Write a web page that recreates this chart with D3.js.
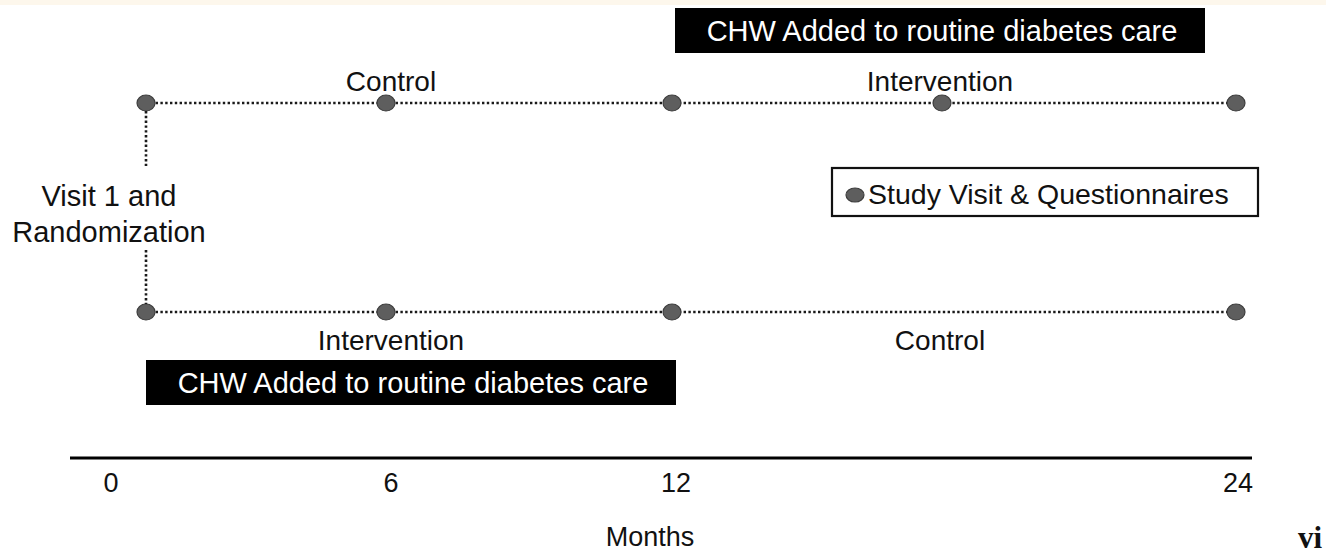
<!DOCTYPE html>
<html>
<head>
<meta charset="utf-8">
<script src="https://cdn.jsdelivr.net/npm/d3@7"></script>
<style>
  html, body { margin: 0; padding: 0; background: #ffffff; }
  svg { display: block; }
  text { font-family: "Liberation Sans", Arial, sans-serif; }
</style>
</head>
<body>
<svg id="chart" width="1326" height="555"></svg>
<script>
// ---------------- data ----------------
const visitMonths = [0, 6, 12, 18, 24];          // visit schedule positions
const armATopVisits = [0, 6, 12, 18, 24];        // upper arm study visits
const armBBottomVisits = [0, 6, 12, 24];         // lower arm study visits
const armAPhases = [
  { label: "Control", start: 0, end: 12, labelAt: 6 },
  { label: "Intervention", start: 12, end: 24, labelAt: 18 }
];
const armBPhases = [
  { label: "Intervention", start: 0, end: 12, labelAt: 6 },
  { label: "Control", start: 12, end: 24, labelAt: 18 }
];
const chwText = "CHW Added to routine diabetes care";
const tickMonths = [0, 6, 12, 24];
const tickLabels = ["0", "6", "12", "24"];
const axisTitle = "Months";
const legendText = "Study Visit & Questionnaires";
const startLabel = ["Visit 1 and", "Randomization"];
const pageMark = "vi";

// ---------------- layout ----------------
const svg = d3.select("#chart");
const W = 1326, H = 555;

// timeline is drawn schematically (not to scale) -> piecewise scale
const x = d3.scaleLinear().domain(visitMonths).range([146, 386, 672, 942, 1236]);
const xTick = d3.scaleLinear().domain(tickMonths).range([111, 391, 676, 1238]);

const yTop = 103, yBottom = 312;
const dotColor = "#5e5e5e", dotStroke = "#3e3e3e";

// top cream band
svg.append("rect").attr("x", 0).attr("y", 0).attr("width", W).attr("height", 5).attr("fill", "#fdf7ec");

function drawArm(y, visits, phases, labelY, boxY) {
  const g = svg.append("g");
  const ext = d3.extent(visits);
  g.append("line")
    .attr("x1", x(ext[0])).attr("x2", x(ext[1]))
    .attr("y1", y).attr("y2", y)
    .attr("stroke", "#1a1a1a").attr("stroke-width", 2.6)
    .attr("stroke-dasharray", "2.4 2.4");
  g.selectAll("ellipse").data(visits).join("ellipse")
    .attr("cx", d => x(d)).attr("cy", y)
    .attr("rx", 9).attr("ry", 8)
    .attr("fill", dotColor).attr("stroke", dotStroke).attr("stroke-width", 1.2);
  g.selectAll("text.phase").data(phases).join("text")
    .attr("class", "phase")
    .attr("x", d => x(d.labelAt) + (d.labelAt < 12 ? 5 : -2)).attr("y", labelY)
    .attr("text-anchor", "middle")
    .attr("font-size", 28).attr("fill", "#111")
    .text(d => d.label);
  const inter = phases.find(p => p.label === "Intervention");
  const bx = x(inter.start) + (inter.start === 0 ? 0 : 3);
  const bw = 530;
  g.append("rect").attr("x", bx).attr("y", boxY).attr("width", bw).attr("height", 45).attr("fill", "#000");
  g.append("text")
    .attr("x", bx + bw / 2 + 2).attr("y", boxY + 33)
    .attr("text-anchor", "middle").attr("font-size", 29).attr("fill", "#fff")
    .text(chwText);
}

drawArm(yTop, armATopVisits, armAPhases, 91, 8);
drawArm(yBottom, armBBottomVisits, armBPhases, 350, 360);

// randomization connector
const vx = x(0);
[[yTop + 8, 166], [250, yBottom - 8]].forEach(([a, b]) => {
  svg.append("line").attr("x1", vx).attr("x2", vx).attr("y1", a).attr("y2", b)
    .attr("stroke", "#1a1a1a").attr("stroke-width", 2.6).attr("stroke-dasharray", "2.4 2.4");
});
svg.append("text").attr("text-anchor", "middle").attr("font-size", 29).attr("fill", "#111")
  .selectAll("tspan").data(startLabel).join("tspan")
  .attr("x", 109).attr("y", (d, i) => 206 + i * 36).text(d => d);

// legend
const lg = svg.append("g");
lg.append("rect").attr("x", 832).attr("y", 168).attr("width", 426).attr("height", 48)
  .attr("fill", "#fff").attr("stroke", "#111").attr("stroke-width", 2.2);
lg.append("ellipse").attr("cx", 855).attr("cy", 195).attr("rx", 9).attr("ry", 7)
  .attr("fill", dotColor).attr("stroke", dotStroke).attr("stroke-width", 1.2);
lg.append("text").attr("x", 868).attr("y", 204).attr("font-size", 28.5).attr("fill", "#111").text(legendText);

// time axis
svg.append("line").attr("x1", 70).attr("x2", 1252).attr("y1", 458).attr("y2", 458)
  .attr("stroke", "#000").attr("stroke-width", 3);
svg.selectAll("text.tick").data(tickMonths).join("text")
  .attr("class", "tick")
  .attr("x", d => xTick(d)).attr("y", 492)
  .attr("text-anchor", "middle").attr("font-size", 27).attr("fill", "#111")
  .text((d, i) => tickLabels[i]);
svg.append("text").attr("x", 650).attr("y", 546).attr("text-anchor", "middle")
  .attr("font-size", 27).attr("fill", "#111").text(axisTitle);

svg.append("text").attr("x", 1310).attr("y", 548).attr("text-anchor", "middle")
  .style("font-family", "'Liberation Serif', 'Times New Roman', serif")
  .attr("font-weight", "bold").attr("font-size", 31).attr("fill", "#111").text(pageMark);
</script>
</body>
</html>
